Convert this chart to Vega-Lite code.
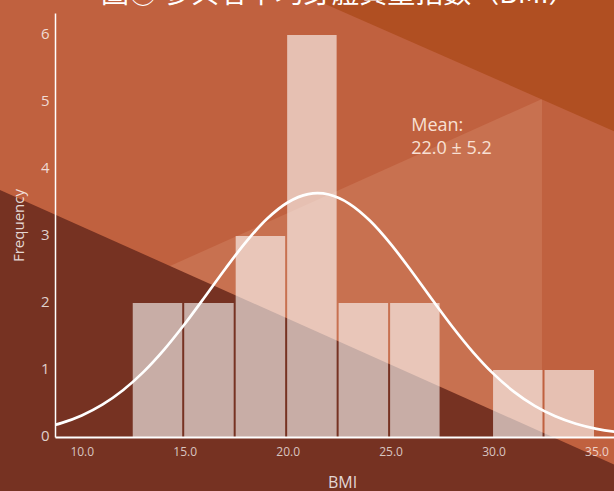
{
  "$schema": "https://vega.github.io/schema/vega-lite/v6.json",
  "width": 559,
  "height": 424,
  "autosize": {"type": "none"},
  "padding": {"left": 55, "top": 13, "right": 0, "bottom": 54},
  "background": "#c0613f",
  "title": {
    "text": "圖② 參與者平均身體質量指數（BMI）",
    "anchor": "start",
    "frame": "group",
    "dx": 46,
    "offset": -9,
    "font": "Noto Sans CJK TC",
    "fontSize": 28,
    "fontWeight": "normal",
    "color": "#ffffff"
  },
  "datasets": {
    "bg_light": [
      {"x": 14.285, "y": 2.553},
      {"x": 32.353, "y": 5.046}
    ],
    "bg_top": [
      {"x": 21.377, "y": 6.524},
      {"x": 40.03, "y": 4.001}
    ],
    "bg_dark": [
      {"x": 3.115, "y": 4.088},
      {"x": 40.03, "y": -0.984}
    ],
    "bins": [
      {"bin_start": 12.5, "bin_end": 15.0, "count": 2},
      {"bin_start": 15.0, "bin_end": 17.5, "count": 2},
      {"bin_start": 17.5, "bin_end": 20.0, "count": 3},
      {"bin_start": 20.0, "bin_end": 22.5, "count": 6},
      {"bin_start": 22.5, "bin_end": 25.0, "count": 2},
      {"bin_start": 25.0, "bin_end": 27.5, "count": 2},
      {"bin_start": 27.5, "bin_end": 30.0, "count": 0},
      {"bin_start": 30.0, "bin_end": 32.5, "count": 1},
      {"bin_start": 32.5, "bin_end": 35.0, "count": 1}
    ],
    "curve": [
      {"bmi": 8, "freq": 0.1284},
      {"bmi": 9, "freq": 0.2072},
      {"bmi": 10, "freq": 0.3224},
      {"bmi": 11, "freq": 0.4832},
      {"bmi": 12, "freq": 0.6982},
      {"bmi": 13, "freq": 0.9721},
      {"bmi": 14, "freq": 1.3044},
      {"bmi": 15, "freq": 1.6866},
      {"bmi": 16, "freq": 2.1018},
      {"bmi": 17, "freq": 2.5239},
      {"bmi": 18, "freq": 2.9209},
      {"bmi": 19, "freq": 3.2576},
      {"bmi": 20, "freq": 3.5012},
      {"bmi": 21, "freq": 3.6264},
      {"bmi": 21.45, "freq": 3.64},
      {"bmi": 22, "freq": 3.6197},
      {"bmi": 23, "freq": 3.4818},
      {"bmi": 24, "freq": 3.2276},
      {"bmi": 25, "freq": 2.8834},
      {"bmi": 26, "freq": 2.4823},
      {"bmi": 27, "freq": 2.0593},
      {"bmi": 28, "freq": 1.6466},
      {"bmi": 29, "freq": 1.2686},
      {"bmi": 30, "freq": 0.942},
      {"bmi": 31, "freq": 0.6741},
      {"bmi": 32, "freq": 0.4648},
      {"bmi": 33, "freq": 0.3089},
      {"bmi": 34, "freq": 0.1978},
      {"bmi": 35, "freq": 0.1221},
      {"bmi": 36, "freq": 0.0726},
      {"bmi": 37, "freq": 0.0416}
    ],
    "note": [
      {"bmi": 26.0, "freq": 4.57, "label": "Mean:\n22.0 ± 5.2"}
    ]
  },
  "layer": [
    {
      "data": {"name": "bg_light"},
      "mark": {"type": "area", "orient": "vertical", "color": "#c87150"},
      "encoding": {
        "x": {
          "field": "x",
          "type": "quantitative",
          "title": "BMI",
          "scale": {"domain": [8.7, 35.85], "nice": false, "zero": false},
          "axis": {
            "values": [10, 15, 20, 25, 30, 35],
            "format": ".1f",
            "grid": false,
            "ticks": false,
            "zindex": 1,
            "domainColor": "#ffffff",
            "domainWidth": 1.8,
            "labelColor": "#ffffff",
            "labelOpacity": 0.72,
            "labelFont": "Open Sans",
            "labelFontSize": 12,
            "labelPadding": 9,
            "titleColor": "#ffffff",
            "titleOpacity": 0.82,
            "titleFont": "Open Sans",
            "titleFontSize": 16,
            "titleFontWeight": "normal",
            "titlePadding": 17,
            "titleX": 287
          }
        },
        "y": {
          "field": "y",
          "type": "quantitative",
          "title": "Frequency",
          "scale": {"domain": [0, 6.33], "nice": false, "zero": false},
          "axis": {
            "values": [0, 1, 2, 3, 4, 5, 6],
            "format": "d",
            "grid": false,
            "ticks": false,
            "zindex": 1,
            "domainColor": "#ffffff",
            "domainWidth": 1.5,
            "labelColor": "#ffffff",
            "labelOpacity": 0.78,
            "labelFont": "Open Sans",
            "labelFontSize": 15,
            "labelPadding": 6,
            "labelOffset": -2,
            "titleColor": "#ffffff",
            "titleOpacity": 0.82,
            "titleFont": "Open Sans",
            "titleFontSize": 15,
            "titleFontWeight": "normal",
            "titlePadding": 14
          }
        },
        "y2": {"datum": -1.5}
      }
    },
    {
      "data": {"name": "bg_top"},
      "mark": {"type": "area", "orient": "vertical", "color": "#b04f22"},
      "encoding": {
        "x": {"field": "x", "type": "quantitative", "title": "BMI"},
        "y": {"field": "y", "type": "quantitative", "title": "Frequency"},
        "y2": {"datum": 6.53}
      }
    },
    {
      "data": {"name": "bg_dark"},
      "mark": {"type": "area", "orient": "vertical", "color": "#763222"},
      "encoding": {
        "x": {"field": "x", "type": "quantitative", "title": "BMI"},
        "y": {"field": "y", "type": "quantitative", "title": "Frequency"},
        "y2": {"datum": -1.5}
      }
    },
    {
      "data": {"name": "bins"},
      "mark": {"type": "bar", "color": "#ffffff", "opacity": 0.6, "xOffset": -0.5, "x2Offset": -2.5},
      "encoding": {
        "x": {"field": "bin_start", "type": "quantitative", "title": "BMI"},
        "x2": {"field": "bin_end"},
        "y": {"field": "count", "type": "quantitative", "title": "Frequency"},
        "y2": {"datum": 0}
      }
    },
    {
      "data": {"name": "curve"},
      "mark": {"type": "line", "color": "#ffffff", "strokeWidth": 2.7, "interpolate": "monotone", "clip": true},
      "encoding": {
        "x": {"field": "bmi", "type": "quantitative", "title": "BMI"},
        "y": {"field": "freq", "type": "quantitative", "title": "Frequency"}
      }
    },
    {
      "data": {"name": "note"},
      "mark": {"type": "text", "align": "left", "baseline": "alphabetic", "lineBreak": "\n", "lineHeight": 23, "font": "Open Sans", "fontSize": 18, "color": "#f8e0d4"},
      "encoding": {
        "x": {"field": "bmi", "type": "quantitative", "title": "BMI"},
        "y": {"field": "freq", "type": "quantitative", "title": "Frequency"},
        "text": {"field": "label"}
      }
    }
  ],
  "config": {
    "view": {"stroke": null}
  }
}
